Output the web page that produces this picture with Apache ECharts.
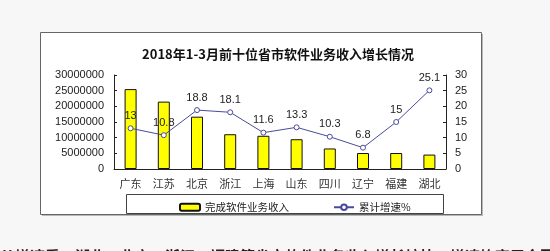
<!DOCTYPE html>
<html><head><meta charset="utf-8">
<script src="https://cdn.jsdelivr.net/npm/echarts@6/dist/echarts.min.js"></script>
<style>html,body{margin:0;padding:0;background:#f7f7f7;}#c{width:550px;height:251px;}</style>
</head><body><div id="c"></div>
<script>
var titleText = '2018年1-3月前十位省市软件业务收入增长情况';
var categories = ['广东','江苏','北京','浙江','上海','山东','四川','辽宁','福建','湖北'];
var revenue = [25500000, 21500000, 16700000, 11100000, 10600000, 9500000, 6550000, 5100000, 5100000, 4600000];
var growth = [13, 10.8, 18.8, 18.1, 11.6, 13.3, 10.3, 6.8, 15, 25.1];
var barName = '完成软件业务收入';
var lineName = '累计增速%';
var footText = '从增速看，湖北、北京、浙江、福建等省市软件业务收入增长较快，增速均高于全国平均水平，辽宁增速';

var FONT = '"Liberation Sans", "Noto Sans CJK SC", sans-serif';
var chart = echarts.init(document.getElementById('c'), null, {renderer: 'canvas'});
chart.setOption({
  backgroundColor: '#f7f7f7',
  animation: false,
  textStyle: {fontFamily: FONT},
  graphic: [
    {type: 'rect', z: -10, shape: {x: 42, y: 34, width: 441, height: 182}, style: {fill: '#b8b8b8'}},
    {type: 'rect', z: -9, shape: {x: 40.5, y: 32.5, width: 441, height: 182}, style: {fill: '#ffffff', stroke: '#666666', lineWidth: 1}},
    {type: 'rect', z: -8, shape: {x: 126.5, y: 194.5, width: 317, height: 19}, style: {fill: '#ffffff', stroke: '#444444', lineWidth: 1}},
    {type: 'text', x: 0, y: 249, style: {text: footText, font: 'bold 15px "Noto Sans CJK SC"', fill: '#222222', verticalAlign: 'top'}}
  ],
  title: {
    text: titleText, left: 273, top: 43, textAlign: 'center',
    textStyle: {fontSize: 13, fontWeight: 'bold', color: '#111', fontFamily: '"Noto Sans CJK SC"'}
  },
  legend: {
    left: 174, top: 197, itemWidth: 20, itemHeight: 7, itemGap: 44,
    textStyle: {fontSize: 10.5, color: '#222', fontFamily: '"Noto Sans CJK SC"'},
    data: [barName, lineName]
  },
  grid: {left: 114, right: 104, top: 75, bottom: 82, containLabel: false},
  xAxis: {
    type: 'category', data: categories,
    axisLine: {lineStyle: {color: '#222', width: 1}},
    axisTick: {inside: true, length: 3, lineStyle: {color: '#222'}},
    axisLabel: {fontSize: 11, color: '#333', margin: 9, fontFamily: '"Noto Sans CJK SC"'}
  },
  yAxis: [
    {type: 'value', min: 0, max: 30000000, interval: 5000000,
     axisLine: {show: true, lineStyle: {color: '#222'}},
     axisTick: {show: true, inside: true, length: 3, lineStyle: {color: '#222'}},
     splitLine: {show: false},
     axisLabel: {fontSize: 11, color: '#222', margin: 10, formatter: function (v) { return String(v); }}},
    {type: 'value', min: 0, max: 30, interval: 5,
     axisLine: {show: true, lineStyle: {color: '#222'}},
     axisTick: {show: true, inside: true, length: 3, lineStyle: {color: '#222'}},
     splitLine: {show: false},
     axisLabel: {fontSize: 11, color: '#222', margin: 9}}
  ],
  series: [
    {name: barName, type: 'bar', data: revenue, barWidth: 12,
     itemStyle: {color: '#ffff00', borderColor: '#111', borderWidth: 1}},
    {name: lineName, type: 'line', yAxisIndex: 1, data: growth,
     symbol: 'circle', symbolSize: 5,
     lineStyle: {color: '#4a4a9c', width: 1},
     itemStyle: {color: '#ffffff', borderColor: '#4a4a9c', borderWidth: 1},
     label: {show: true, position: 'top', distance: 4, fontSize: 11, color: '#222'}}
  ]
});
</script></body></html>
